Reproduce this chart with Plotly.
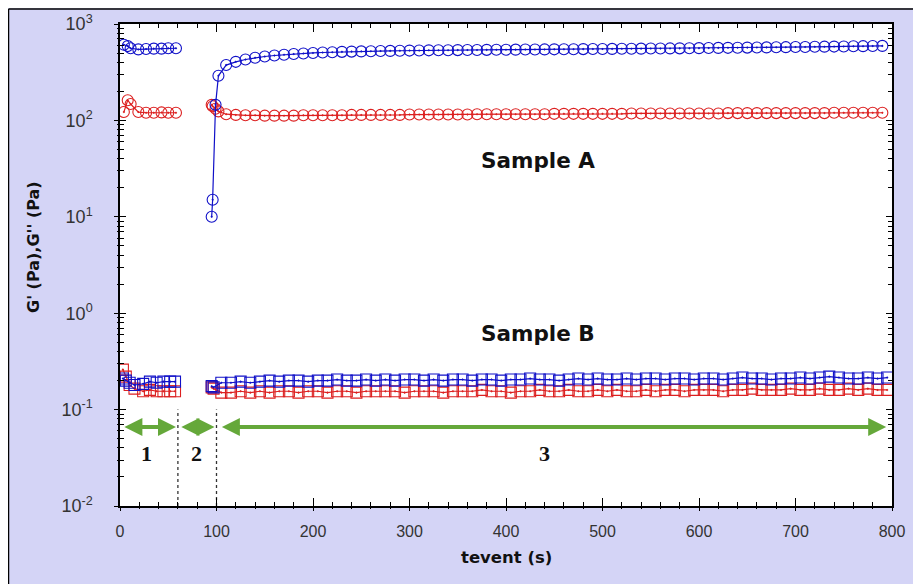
import math
import plotly.graph_objects as go

# ---------------- data ----------------
# Sample A, phase 1
tA1 = [4, 8, 11, 19, 27, 35, 43, 50, 58]
gA1_storage = [610, 590, 560, 545, 550, 555, 555, 560, 560]
gA1_loss = [122, 162, 148, 122, 120, 120, 121, 120, 120]

# Sample A, phase 3
tA3 = [95, 96, 99, 102, 110, 120, 130, 140, 150, 160, 170, 180, 190, 200,
       210, 220, 230, 240, 250, 260, 270, 280, 290, 300, 310, 320, 330, 340,
       350, 360, 370, 380, 390, 400, 410, 420, 430, 440, 450, 460, 470, 480,
       490, 500, 510, 520, 530, 540, 550, 560, 570, 580, 590, 600, 610, 620,
       630, 640, 650, 660, 670, 680, 690, 700, 710, 720, 730, 740, 750, 760,
       770, 780, 790]
gA3_storage = [10, 15, 145, 290,
               375, 405, 428, 447, 460, 471, 480, 488, 495, 501,
               506, 510, 514, 517, 520, 522, 524, 526, 528, 530,
               531, 533, 534, 535, 536, 537, 538, 539, 540, 541,
               542, 543, 544, 545, 546, 547, 548, 549, 550, 551,
               552, 553, 554, 555, 556, 557, 558, 559, 560, 562,
               563, 565, 566, 568, 569, 571, 572, 574, 575, 577,
               578, 580, 582, 583, 585, 587, 589, 591, 593]
gA3_loss = [145, 140, 132, 124, 116, 114, 113, 113, 112, 112,
            112, 112, 113, 113, 113, 113, 113, 114, 114, 114,
            114, 114, 114, 115, 115, 115, 115, 115, 115, 115,
            116, 116, 116, 116, 116, 116, 116, 116, 117, 117,
            117, 117, 117, 117, 117, 117, 118, 118, 118, 118,
            118, 118, 118, 118, 118, 118, 119, 119, 119, 119,
            119, 119, 119, 119, 119, 119, 119, 120, 120, 120,
            120, 120, 120]

# Sample B, phase 1
tB1 = [3, 6, 10, 15, 24, 31, 38, 45, 52, 57]
gB1_storage = [0.21, 0.20, 0.19, 0.18, 0.185, 0.195, 0.19, 0.195, 0.195, 0.195]
gB1_loss = [0.26, 0.22, 0.18, 0.165, 0.155, 0.16, 0.155, 0.155, 0.155, 0.155]

# Sample B, phase 3
tB3 = [95, 97, 105, 115, 125, 135, 145, 155, 165, 175, 185, 195, 205, 215,
       225, 235, 245, 255, 265, 275, 285, 295, 305, 315, 325, 335, 345, 355,
       365, 375, 385, 395, 405, 415, 425, 435, 445, 455, 465, 475, 485, 495,
       505, 515, 525, 535, 545, 555, 565, 575, 585, 595, 605, 615, 625, 635,
       645, 655, 665, 675, 685, 695, 705, 715, 725, 735, 745, 755, 765, 775,
       785, 795]
gB3_storage = [0.175, 0.17, 0.19, 0.19, 0.195, 0.19, 0.195, 0.20, 0.195, 0.20,
               0.20, 0.195, 0.20, 0.20, 0.205, 0.20, 0.20, 0.205, 0.20, 0.205,
               0.20, 0.205, 0.205, 0.20, 0.205, 0.20, 0.205, 0.205, 0.20, 0.205,
               0.205, 0.20, 0.205, 0.205, 0.21, 0.205, 0.205, 0.20, 0.205, 0.21,
               0.205, 0.21, 0.205, 0.205, 0.21, 0.205, 0.21, 0.21, 0.205, 0.21,
               0.21, 0.205, 0.21, 0.21, 0.205, 0.21, 0.215, 0.21, 0.21, 0.205,
               0.21, 0.21, 0.215, 0.21, 0.215, 0.22, 0.215, 0.21, 0.21, 0.215,
               0.21, 0.215]
gB3_loss = [0.17, 0.165, 0.15, 0.15, 0.155, 0.15, 0.155, 0.15, 0.155, 0.155,
            0.15, 0.155, 0.155, 0.15, 0.155, 0.155, 0.15, 0.155, 0.155, 0.155,
            0.155, 0.15, 0.155, 0.155, 0.155, 0.15, 0.155, 0.155, 0.155, 0.16,
            0.155, 0.155, 0.15, 0.155, 0.155, 0.16, 0.155, 0.155, 0.16, 0.155,
            0.155, 0.16, 0.155, 0.16, 0.155, 0.155, 0.16, 0.155, 0.16, 0.16,
            0.155, 0.16, 0.16, 0.16, 0.155, 0.16, 0.16, 0.165, 0.16, 0.16,
            0.16, 0.165, 0.16, 0.16, 0.165, 0.16, 0.16, 0.165, 0.16, 0.165,
            0.16, 0.16]

# phases
phase_bounds = [60, 100]
phase_arrows = [(3, 58), (62, 98), (104, 794)]
phase_labels = ["1", "2", "3"]
phase_label_x = [27, 79, 440]
arrow_level = 0.066
label_level = 0.035

sample_labels = ["Sample A", "Sample B"]
sample_label_x = [433, 433]
sample_label_y = [38, 0.61]

x_ticks = [0, 100, 200, 300, 400, 500, 600, 700, 800]
y_ticks = [0.01, 0.1, 1, 10, 100, 1000]
y_ticktext = ["10<sup>-2</sup>", "10<sup>-1</sup>", "10<sup>0</sup>",
              "10<sup>1</sup>", "10<sup>2</sup>", "10<sup>3</sup>"]

# ---------------- styles ----------------
BLUE = "#1010C8"
RED = "#DC2020"
GREEN = "#65A83A"
LAV = "#D4D4F6"

fig = go.Figure()


def add(t, v, color, symbol, size):
    fig.add_trace(go.Scatter(
        x=t, y=v, mode="lines+markers",
        line=dict(color=color, width=1.2),
        marker=dict(symbol=symbol, size=size, color=color,
                    line=dict(color=color, width=1.1)),
        showlegend=False, hoverinfo="skip"))


# Sample B (squares)
add(tB1, gB1_loss, RED, "square-open-dot", 11)
add(tB3, gB3_loss, RED, "square-open-dot", 11)
add(tB1, gB1_storage, BLUE, "square-open-dot", 11)
add(tB3, gB3_storage, BLUE, "square-open-dot", 11)
# Sample A (circles)
add(tA1, gA1_loss, RED, "circle-open-dot", 11)
add(tA3, gA3_loss, RED, "circle-open-dot", 11)
add(tA1, gA1_storage, BLUE, "circle-open-dot", 11)
add(tA3, gA3_storage, BLUE, "circle-open-dot", 11)

# dashed phase boundaries
for b in phase_bounds:
    fig.add_trace(go.Scatter(x=[b, b], y=[y_ticks[0], y_ticks[1]], mode="lines",
                             line=dict(color="#333333", width=1.3, dash="dot"),
                             showlegend=False, hoverinfo="skip"))

# overlay axes to get ticks crossing the left/bottom lines
fig.add_trace(go.Scatter(x=[None], y=[None], xaxis="x2", yaxis="y2",
                         showlegend=False, hoverinfo="skip"))

ann = []
for (a, b) in phase_arrows:
    ann.append(dict(x=b, y=math.log10(arrow_level), ax=a, ay=math.log10(arrow_level),
                    xref="x", yref="y", axref="x", ayref="y", text="",
                    showarrow=True, arrowhead=2, arrowside="end+start",
                    arrowsize=0.9, arrowwidth=4, arrowcolor=GREEN,
                    standoff=0, startstandoff=0))
for lab, lx in zip(phase_labels, phase_label_x):
    ann.append(dict(x=lx, y=math.log10(label_level), xref="x", yref="y",
                    text="<b>%s</b>" % lab, showarrow=False,
                    font=dict(family="Liberation Serif", size=22, color="#111111")))
for lab, lx, ly in zip(sample_labels, sample_label_x, sample_label_y):
    ann.append(dict(x=lx, y=math.log10(ly), xref="x", yref="y",
                    text="<b>%s</b>" % lab, showarrow=False,
                    font=dict(family="DejaVu Sans", size=21.5, color="#111111")))

# page has an 8px body margin; coordinates below are in page pixels
fx = lambda px: (px - 120) / 772
fy = lambda py: (506 - py) / 482

# axis titles
ann.append(dict(x=fx(33), y=fy(247), xref="paper", yref="paper",
                xanchor="center", yanchor="middle",
                text="<b>G' (Pa),G'' (Pa)</b>", textangle=-90, showarrow=False,
                font=dict(family="DejaVu Sans", size=16, color="#111111")))
ann.append(dict(x=0.5, y=fy(557), xref="paper", yref="paper",
                xanchor="center", yanchor="middle",
                text="<b>tevent (s)</b>", showarrow=False,
                font=dict(family="DejaVu Sans", size=16.5, color="#111111")))

shapes = [
    dict(type="line", xref="paper", yref="paper", x0=fx(8.5), x1=fx(960),
         y0=fy(9), y1=fy(9), line=dict(color="black", width=1.5)),
    dict(type="line", xref="paper", yref="paper", x0=fx(8.5), x1=fx(8.5),
         y0=fy(9), y1=fy(620), line=dict(color="black", width=1.5)),
]

tickfont = dict(family="Liberation Sans", size=16, color="#333333")
ytickfont = dict(family="Liberation Sans", size=18, color="#333333")
fig.update_layout(
    template="none",
    width=913, height=576,
    margin=dict(l=112, r=29, t=16, b=78, autoexpand=False),
    paper_bgcolor=LAV, plot_bgcolor="white",
    showlegend=False,
    annotations=ann, shapes=shapes,
    xaxis=dict(range=[0, 800], tickvals=x_ticks, ticks="inside", ticklen=8,
               tickwidth=1.2, tickcolor="black", automargin=False,
               minor=dict(dtick=20, tick0=0, ticks="inside", ticklen=4,
                          tickwidth=1.1, tickcolor="black", showgrid=False),
               showline=True, linecolor="black", linewidth=1.5, mirror="ticks",
               showgrid=False, zeroline=False, tickfont=tickfont,
               ticklabelstandoff=10),
    yaxis=dict(type="log", range=[-2, 3], tickvals=y_ticks, ticktext=y_ticktext,
               ticks="inside", ticklen=6, tickwidth=1.2, tickcolor="black",
               automargin=False,
               minor=dict(dtick="D1", ticks="inside", ticklen=4,
                          tickwidth=1.1, tickcolor="black", showgrid=False),
               showline=True, linecolor="black", linewidth=1.5, mirror="ticks",
               showgrid=False, zeroline=False, tickfont=ytickfont,
               ticklabelstandoff=22),
    xaxis2=dict(overlaying="x", anchor="y2", range=[0, 800], tickvals=x_ticks,
                ticks="outside", ticklen=4, tickwidth=1.2, tickcolor="black",
                automargin=False,
                minor=dict(dtick=20, tick0=0, ticks="outside", ticklen=2,
                           tickwidth=1.1, tickcolor="black"),
                showticklabels=False, showline=False, showgrid=False, zeroline=False),
    yaxis2=dict(overlaying="y", anchor="x2", side="left", type="log", range=[-2, 3],
                tickvals=y_ticks, ticks="outside", ticklen=5, tickwidth=1.2,
                tickcolor="black", automargin=False,
                minor=dict(dtick="D1", ticks="outside", ticklen=2,
                           tickwidth=1.1, tickcolor="black"),
                showticklabels=False, showline=False, showgrid=False, zeroline=False),
)

fig.write_html("out.html")
